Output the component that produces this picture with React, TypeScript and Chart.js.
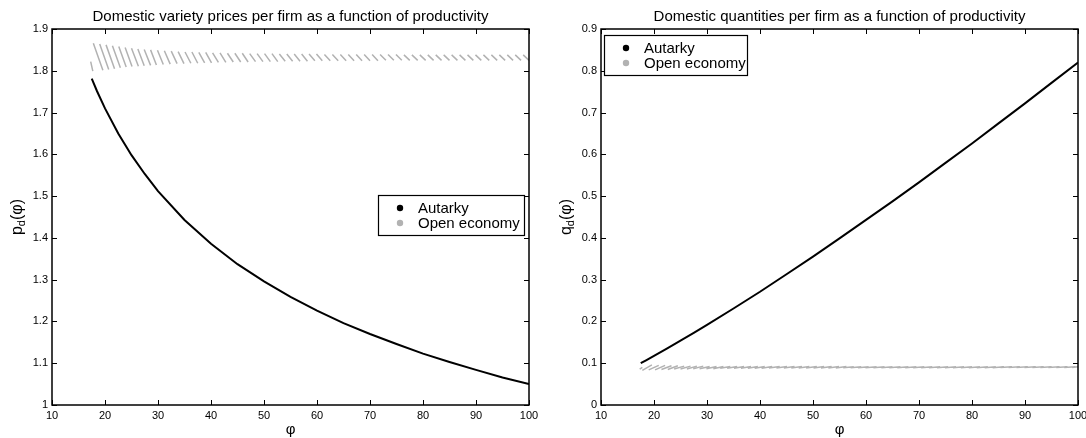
import React, { useEffect, useRef } from "react";
import { Chart, registerables } from "chart.js";

Chart.register(...registerables);

const FONT = '"Liberation Sans", Arial, Helvetica, sans-serif';
const BLACK = "#000000";
const GRAY = "#b2b2b2";

// ---------- data ----------
const seriesLabels = ["Autarky", "Open economy"];

const titles = [
  "Domestic variety prices per firm as a function of productivity",
  "Domestic quantities per firm as a function of productivity",
];
const xAxisLabel = "φ";
const yAxisLabelParts = [
  ["p", "d", "(φ)"],
  ["q", "d", "(φ)"],
];

const xTicks = [10, 20, 30, 40, 50, 60, 70, 80, 90, 100];
const xTickLabels = ["10", "20", "30", "40", "50", "60", "70", "80", "90", "100"];
const priceTicks = [1, 1.1, 1.2, 1.3, 1.4, 1.5, 1.6, 1.7, 1.8, 1.9];
const priceTickLabels = ["1", "1.1", "1.2", "1.3", "1.4", "1.5", "1.6", "1.7", "1.8", "1.9"];
const qtyTicks = [0, 0.1, 0.2, 0.3, 0.4, 0.5, 0.6, 0.7, 0.8, 0.9];
const qtyTickLabels = ["0", "0.1", "0.2", "0.3", "0.4", "0.5", "0.6", "0.7", "0.8", "0.9"];

// Autarky curves
const phi = [17.5, 18.5, 20, 22.5, 25, 27.5, 30, 35, 40, 45, 50, 55, 60, 65, 70, 75, 80, 85, 90, 95, 100];
const priceAutarky = [1.781, 1.751, 1.71, 1.65, 1.598, 1.553, 1.512, 1.443, 1.386, 1.337, 1.296, 1.259, 1.226, 1.196, 1.17, 1.146, 1.123, 1.103, 1.084, 1.066, 1.05];
const qtyAutarky = [0.1, 0.107, 0.1175, 0.1355, 0.154, 0.1726, 0.192, 0.231, 0.271, 0.313, 0.355, 0.399, 0.443, 0.4875, 0.533, 0.5795, 0.626, 0.674, 0.722, 0.771, 0.82];

// Open economy: sawtooth strokes (start / end productivity of each stroke)
const openStrokeStart = [
  17.3, 17.8, 19.0, 20.2, 21.4, 22.6, 23.8, 25.0, 26.2, 27.4,
  28.6, 29.9, 31.2, 32.5, 33.8, 35.1, 36.4, 37.7, 39.0, 40.3,
  41.7, 43.1, 44.5, 45.9, 47.3, 48.7, 50.1, 51.5, 52.9, 54.3,
  55.7, 57.1, 58.5, 59.9, 61.4, 62.9, 64.4, 65.9, 67.4, 68.9,
  70.4, 71.9, 73.4, 74.9, 76.4, 77.9, 79.4, 80.9, 82.4, 83.9,
  85.4, 86.9, 88.4, 89.9, 91.4, 92.9, 94.4, 95.9, 97.4, 98.9,
];
const openPriceStrokeEnd = [
  17.7, 19.6, 20.7, 21.8, 22.9, 24.0, 25.1, 26.3, 27.4, 28.6,
  29.7, 31.0, 32.3, 33.6, 34.9, 36.2, 37.5, 38.8, 40.1, 41.4,
  42.8, 44.2, 45.6, 47.0, 48.4, 49.8, 51.2, 52.6, 54.0, 55.4,
  56.8, 58.2, 59.6, 61.0, 62.5, 64.0, 65.5, 67.0, 68.5, 70.0,
  71.5, 73.0, 74.5, 76.0, 77.5, 79.0, 80.5, 82.0, 83.5, 85.0,
  86.5, 88.0, 89.5, 91.0, 92.5, 94.0, 95.5, 97.0, 98.5, 100.0,
];
const openQtyStrokeEnd = [
  17.8, 19.6, 20.9, 22.1, 23.3, 24.5, 25.7, 26.9, 28.1, 29.3,
  30.5, 31.8, 33.1, 34.4, 35.7, 37.0, 38.3, 39.6, 40.9, 42.3,
  43.7, 45.1, 46.5, 47.9, 49.3, 50.7, 52.1, 53.5, 54.9, 56.3,
  57.7, 59.1, 60.5, 62.0, 63.5, 65.0, 66.5, 68.0, 69.5, 71.0,
  72.5, 74.0, 75.5, 77.0, 78.5, 80.0, 81.5, 83.0, 84.5, 86.0,
  87.5, 89.0, 90.5, 92.0, 93.5, 95.0, 96.5, 98.0, 99.5, 100.0,
];
// price strokes go from high (start) to low (end)
const openPriceHigh = [
  1.822, 1.866, 1.864, 1.862, 1.86, 1.858, 1.856, 1.854, 1.852, 1.851,
  1.85, 1.849, 1.848, 1.847, 1.846, 1.845, 1.845, 1.844, 1.844, 1.843,
  1.843, 1.842, 1.842, 1.842, 1.841, 1.841, 1.841, 1.841, 1.84, 1.84,
  1.84, 1.84, 1.84, 1.84, 1.839, 1.839, 1.839, 1.839, 1.839, 1.839,
  1.839, 1.839, 1.839, 1.839, 1.838, 1.838, 1.838, 1.838, 1.838, 1.838,
  1.838, 1.838, 1.838, 1.838, 1.838, 1.838, 1.838, 1.838, 1.838, 1.838,
];
const openPriceLow = [
  1.799, 1.801, 1.803, 1.805, 1.807, 1.809, 1.81, 1.811, 1.812, 1.813,
  1.814, 1.815, 1.816, 1.817, 1.817, 1.818, 1.818, 1.819, 1.819, 1.82,
  1.82, 1.821, 1.821, 1.821, 1.822, 1.822, 1.822, 1.822, 1.823, 1.823,
  1.823, 1.823, 1.824, 1.824, 1.824, 1.824, 1.824, 1.824, 1.824, 1.824,
  1.824, 1.825, 1.825, 1.825, 1.825, 1.825, 1.825, 1.825, 1.825, 1.825,
  1.825, 1.825, 1.825, 1.825, 1.825, 1.825, 1.825, 1.825, 1.825, 1.825,
];
// quantity strokes go from low (start) to high (end)
const openQtyLow = [
  0.086, 0.083, 0.084, 0.084, 0.085, 0.085, 0.086, 0.086, 0.086, 0.087,
  0.087, 0.087, 0.087, 0.088, 0.088, 0.088, 0.088, 0.088, 0.088, 0.088,
  0.0885, 0.0885, 0.0885, 0.0885, 0.0885, 0.0885, 0.0885, 0.0885, 0.0885, 0.0885,
  0.089, 0.089, 0.089, 0.089, 0.089, 0.089, 0.089, 0.089, 0.089, 0.089,
  0.089, 0.089, 0.089, 0.089, 0.089, 0.089, 0.089, 0.089, 0.089, 0.089,
  0.0895, 0.0895, 0.0895, 0.0895, 0.0895, 0.0895, 0.0895, 0.0895, 0.0895, 0.0895,
];
const openQtyHigh = [
  0.09, 0.096, 0.095, 0.095, 0.094, 0.094, 0.093, 0.093, 0.093, 0.093,
  0.092, 0.092, 0.092, 0.092, 0.092, 0.092, 0.092, 0.092, 0.092, 0.092,
  0.092, 0.092, 0.092, 0.092, 0.092, 0.092, 0.092, 0.092, 0.092, 0.092,
  0.0915, 0.0915, 0.0915, 0.0915, 0.0915, 0.0915, 0.0915, 0.0915, 0.0915, 0.0915,
  0.0915, 0.0915, 0.0915, 0.0915, 0.0915, 0.0915, 0.0915, 0.0915, 0.0915, 0.0915,
  0.0915, 0.0915, 0.0915, 0.0915, 0.0915, 0.0915, 0.0915, 0.0915, 0.0915, 0.0915,
];

// ---------- helpers ----------
type Pt = { x: number; y: number | null };

function curve(xs: number[], ys: number[]): Pt[] {
  return xs.map((x, i) => ({ x, y: ys[i] }));
}

function strokes(starts: number[], ends: number[], from: number[], to: number[]): Pt[] {
  const pts: Pt[] = [];
  for (let i = 0; i < starts.length; i++) {
    pts.push({ x: starts[i], y: from[i] });
    pts.push({ x: ends[i], y: to[i] });
    pts.push({ x: ends[i], y: null });
  }
  return pts;
}

type Spec = {
  title: string;
  yParts: string[];
  yTicks: number[];
  yTickLabels: string[];
  yMin: number;
  yMax: number;
  yAxisWidth: number;
  padRight: number;
  yLabelX: number;
  legend: { x: number; y: number; w: number; h: number };
  autarky: Pt[];
  open: Pt[];
};

function decorPlugin(spec: Spec) {
  return {
    id: "matlabDecor",
    afterDraw(chart: any) {
      const { ctx, chartArea: a, scales } = chart;
      const xs = scales.x;
      const ys = scales.y;
      ctx.save();

      // inward tick marks
      ctx.strokeStyle = BLACK;
      ctx.lineWidth = 1;
      const tl = 5;
      ctx.beginPath();
      for (const v of xTicks) {
        const px = Math.round(xs.getPixelForValue(v)) + 0.5;
        ctx.moveTo(px, a.bottom);
        ctx.lineTo(px, a.bottom - tl);
        ctx.moveTo(px, a.top);
        ctx.lineTo(px, a.top + tl);
      }
      for (const v of spec.yTicks) {
        const py = Math.round(ys.getPixelForValue(v)) + 0.5;
        ctx.moveTo(a.left, py);
        ctx.lineTo(a.left + tl, py);
        ctx.moveTo(a.right, py);
        ctx.lineTo(a.right - tl, py);
      }
      ctx.stroke();

      // axes box
      ctx.lineWidth = 1.5;
      ctx.strokeRect(a.left, a.top, a.right - a.left, a.bottom - a.top);

      // title
      ctx.fillStyle = BLACK;
      ctx.font = `15px ${FONT}`;
      ctx.textAlign = "center";
      ctx.textBaseline = "alphabetic";
      ctx.fillText(spec.title, (a.left + a.right) / 2, 21);

      // x label
      ctx.font = `15px ${FONT}`;
      ctx.textBaseline = "middle";
      ctx.fillText(xAxisLabel, (a.left + a.right) / 2, 430);

      // y label with subscript
      ctx.save();
      ctx.translate(spec.yLabelX, (a.top + a.bottom) / 2);
      ctx.rotate(-Math.PI / 2);
      ctx.textAlign = "left";
      ctx.textBaseline = "alphabetic";
      const mainF = `16px ${FONT}`;
      const subF = `11px ${FONT}`;
      ctx.font = mainF;
      const w1 = ctx.measureText(spec.yParts[0]).width;
      const w3 = ctx.measureText(spec.yParts[2]).width;
      ctx.font = subF;
      const w2 = ctx.measureText(spec.yParts[1]).width;
      let x0 = -(w1 + w2 + w3) / 2;
      const base = 4;
      ctx.font = mainF;
      ctx.fillText(spec.yParts[0], x0, base);
      x0 += w1;
      ctx.font = subF;
      ctx.fillText(spec.yParts[1], x0, base + 3);
      x0 += w2;
      ctx.font = mainF;
      ctx.fillText(spec.yParts[2], x0, base);
      ctx.restore();

      // legend
      const L = spec.legend;
      ctx.fillStyle = "#ffffff";
      ctx.fillRect(L.x, L.y, L.w, L.h);
      ctx.strokeStyle = BLACK;
      ctx.lineWidth = 1.2;
      ctx.strokeRect(L.x + 0.5, L.y + 0.5, L.w, L.h);
      const rows = [L.y + 13, L.y + 28];
      chart.data.datasets.forEach((ds: any, i: number) => {
        ctx.beginPath();
        ctx.fillStyle = ds.borderColor;
        ctx.arc(L.x + 22, rows[i], 3.2, 0, Math.PI * 2);
        ctx.fill();
        ctx.fillStyle = BLACK;
        ctx.font = `15px ${FONT}`;
        ctx.textAlign = "left";
        ctx.textBaseline = "middle";
        ctx.fillText(ds.label, L.x + 40, rows[i] + 1);
      });

      ctx.restore();
    },
  };
}

function Panel({ spec, left }: { spec: Spec; left: number }) {
  const ref = useRef<HTMLCanvasElement | null>(null);
  useEffect(() => {
    if (!ref.current) return;
    const chart = new Chart(ref.current, {
      type: "line",
      data: {
        datasets: [
          {
            label: seriesLabels[0],
            data: spec.autarky as any,
            borderColor: BLACK,
            backgroundColor: BLACK,
            borderWidth: 2,
            pointRadius: 0,
            tension: 0,
            spanGaps: false,
          },
          {
            label: seriesLabels[1],
            data: spec.open as any,
            borderColor: GRAY,
            backgroundColor: GRAY,
            borderWidth: 1.5,
            pointRadius: 0,
            tension: 0,
            spanGaps: false,
          },
        ],
      },
      options: {
        animation: false,
        responsive: true,
        maintainAspectRatio: false,
        events: [],
        layout: { padding: { top: 29, right: spec.padRight, left: 0, bottom: 0 } },
        plugins: {
          legend: { display: false },
          tooltip: { enabled: false },
          title: { display: false },
        },
        scales: {
          x: {
            type: "linear",
            min: 10,
            max: 100,
            grid: { display: false, drawTicks: false, tickLength: 0 },
            border: { display: false },
            afterBuildTicks: (s: any) => {
              s.ticks = xTicks.map((v) => ({ value: v }));
            },
            afterFit: (s: any) => {
              s.height = 33;
              s.paddingLeft = 0;
              s.paddingRight = 0;
            },
            ticks: {
              autoSkip: false,
              maxRotation: 0,
              padding: 4,
              color: BLACK,
              font: { family: FONT, size: 11 },
              callback: (_v: any, i: number) => xTickLabels[i],
            },
          },
          y: {
            type: "linear",
            min: spec.yMin,
            max: spec.yMax,
            grid: { display: false, drawTicks: false, tickLength: 0 },
            border: { display: false },
            afterBuildTicks: (s: any) => {
              s.ticks = spec.yTicks.map((v) => ({ value: v }));
            },
            afterFit: (s: any) => {
              s.width = spec.yAxisWidth;
              s.paddingTop = 0;
              s.paddingBottom = 0;
            },
            ticks: {
              autoSkip: false,
              padding: 4,
              color: BLACK,
              font: { family: FONT, size: 11 },
              callback: (_v: any, i: number) => spec.yTickLabels[i],
            },
          },
        },
      } as any,
      plugins: [decorPlugin(spec)],
    });
    return () => chart.destroy();
  }, [spec]);

  return (
    <div style={{ position: "absolute", left, top: 0, width: 543, height: 438 }}>
      <canvas ref={ref} />
    </div>
  );
}

const leftSpec: Spec = {
  title: titles[0],
  yParts: yAxisLabelParts[0],
  yTicks: priceTicks,
  yTickLabels: priceTickLabels,
  yMin: 1,
  yMax: 1.9,
  yAxisWidth: 52,
  padRight: 14,
  yLabelX: 18,
  legend: { x: 378, y: 195, w: 146, h: 40 },
  autarky: curve(phi, priceAutarky),
  open: strokes(openStrokeStart, openPriceStrokeEnd, openPriceHigh, openPriceLow),
};

const rightSpec: Spec = {
  title: titles[1],
  yParts: yAxisLabelParts[1],
  yTicks: qtyTicks,
  yTickLabels: qtyTickLabels,
  yMin: 0,
  yMax: 0.9,
  yAxisWidth: 58,
  padRight: 8,
  yLabelX: 24,
  legend: { x: 61, y: 35, w: 143, h: 40 },
  autarky: curve(phi, qtyAutarky),
  open: strokes(openStrokeStart, openQtyStrokeEnd, openQtyLow, openQtyHigh),
};

export default function App() {
  return (
    <div style={{ position: "fixed", left: 0, top: 0, width: 1086, height: 438, background: "#ffffff" }}>
      <Panel spec={leftSpec} left={0} />
      <Panel spec={rightSpec} left={543} />
    </div>
  );
}
